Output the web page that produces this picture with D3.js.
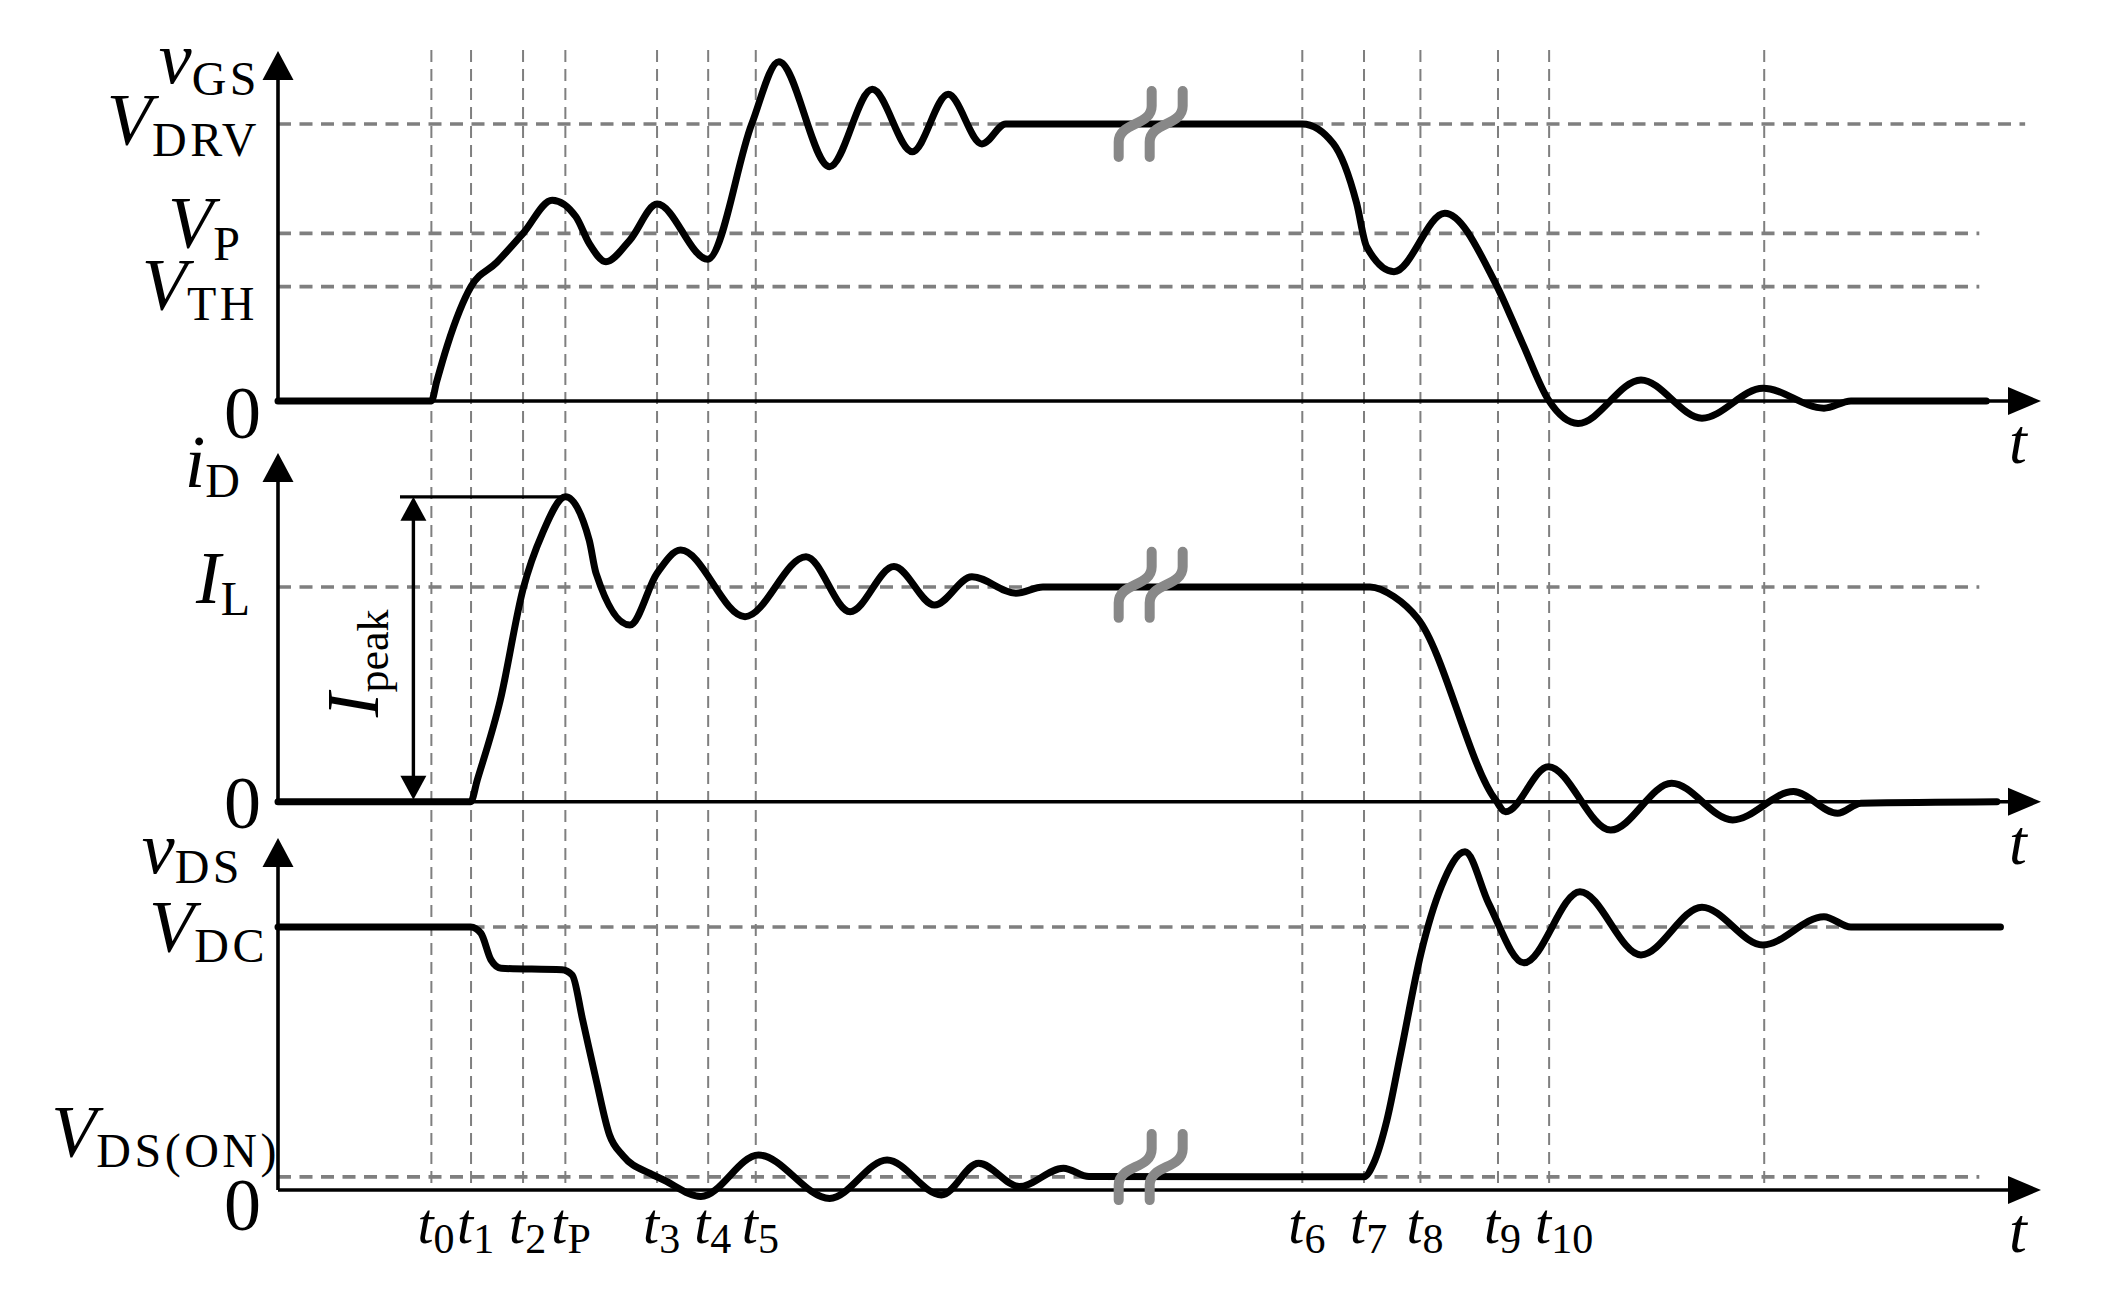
<!DOCTYPE html>
<html lang="en">
<head>
<meta charset="UTF-8">
<title>MOSFET switching waveforms</title>
<script src="https://d3js.org/d3.v7.min.js"></script>
<style>
  body { margin: 0; background: #fff; }
  svg text { font-family: "Liberation Serif", "Times New Roman", serif; fill: #000; }
</style>
</head>
<body>
<svg id="chart" width="2124" height="1310"></svg>
<script>
// time runs 0..100 (arbitrary units), each waveform is normalised to its reference level
const markerTimes = [8.7, 10.95, 13.9, 16.3, 21.5, 24.4, 27.1, 58.1, 61.6, 64.8, 69.2, 72.1, 84.3];
const markerSubs  = ["0", "1", "2", "P", "3", "4", "5", "6", "7", "8", "9", "10", ""];

const vgsLevels = [{ sub: "DRV", v: 1, end: 99.1 }, { sub: "P", v: 0.605, end: 96.5 }, { sub: "TH", v: 0.413, end: 96.5 }];
const idLevels  = [{ sub: "L", v: 1, end: 96.5 }];
const vdsLevels = [{ sub: "DC", v: 1, end: 96.5 }, { sub: "DS(ON)", v: 0.05, end: 96.5 }];

const vGS = [
  [0, 0], [8.7, 0], [9.0, 0.07], [9.6, 0.2], [10.95, 0.413], [12.4, 0.5], [13.9, 0.605], [15.55, 0.725],
  [16.9, 0.665], [17.65, 0.569], [18.6, 0.503], [19.96, 0.581], [21.5, 0.711], [24.37, 0.512],
  [26.87, 1.0], [28.41, 1.225], [31.29, 0.846], [33.71, 1.125], [35.98, 0.9], [38.01, 1.107],
  [39.93, 0.928], [41.28, 1.0], [58.1, 1.0], [59.85, 0.93], [61.18, 0.714], [61.75, 0.557],
  [63.3, 0.467], [66.18, 0.678], [69.06, 0.425], [70.59, 0.208], [72.06, 0.004], [73.74, -0.081],
  [77.31, 0.076], [80.77, -0.062], [84.23, 0.046], [87.69, -0.026], [89.22, 0], [96.9, 0]
];

const iD = [
  [0, 0], [10.93, 0], [11.3, 0.1], [12.6, 0.47], [13.9, 0.99], [15.0, 1.25], [16.31, 1.42],
  [17.65, 1.219], [18.04, 1.064], [19.96, 0.823], [21.5, 1.064], [22.84, 1.172], [26.49, 0.862],
  [29.95, 1.141], [32.45, 0.885], [34.94, 1.095], [37.24, 0.916], [39.36, 1.048], [41.86, 0.971],
  [43.39, 1.0], [61.94, 1.0], [63.3, 0.955], [64.64, 0.854], [69.06, 0.008], [69.63, -0.047],
  [72.06, 0.163], [75.59, -0.132], [79.05, 0.086], [82.51, -0.085], [85.96, 0.047], [88.46, -0.054],
  [89.79, -0.007], [97.5, 0]
];

const vDS = [
  [0, 1], [10.93, 1], [11.51, 0.976], [12.08, 0.875], [12.66, 0.843], [16.11, 0.837], [16.69, 0.817],
  [17.27, 0.65], [18.04, 0.42], [18.8, 0.21], [19.57, 0.13], [21.1, 0.063], [21.88, 0.038],
  [23.99, -0.025], [27.26, 0.133], [31.29, -0.032], [34.55, 0.114], [37.63, -0.019], [39.74, 0.102],
  [42.05, 0.013], [44.55, 0.083], [46.0, 0.051], [61.6, 0.05], [62.14, 0.101], [62.9, 0.266],
  [63.68, 0.52], [64.83, 0.9], [65.98, 1.153], [67.33, 1.286], [68.67, 1.09], [70.67, 0.864],
  [73.85, 1.134], [77.31, 0.894], [80.77, 1.075], [84.23, 0.932], [87.69, 1.039], [89.22, 1.0], [97.7, 1.0]
];

const iPeak = 1.42;           // peak drain current (in units of I_L)
const iPeakArrowT = 7.68;     // where the I_peak dimension arrow sits
const iPeakBarStart = 6.92;
const breakT = 49.5;          // time-axis break
const breakLevels = [1.0, 1.01, 0.087];

// ---- layout ----
const svg = d3.select('#chart');
const x = d3.scaleLinear().domain([0, 100]).range([278, 2041]);
const panels = [
  { data: vGS, levels: vgsLevels, y: d3.scaleLinear().domain([0, 1]).range([401, 124]), top: 51 },
  { data: iD,  levels: idLevels,  y: d3.scaleLinear().domain([0, 1]).range([801.7, 587]), top: 453 },
  { data: vDS, levels: vdsLevels, y: d3.scaleLinear().domain([0, 1]).range([1190, 927]), top: 838 }
];
const gridTop = 50, gridBottom = panels[2].y(0);
const grey = '#7f7f7f';

// vertical dashed marker lines
svg.append('g').selectAll('line').data(markerTimes).join('line')
  .attr('x1', d => x(d)).attr('x2', d => x(d))
  .attr('y1', gridTop).attr('y2', gridBottom)
  .attr('stroke', grey).attr('stroke-width', 2).attr('stroke-dasharray', '12,7');

// horizontal dashed reference levels
panels.forEach(p => {
  svg.append('g').selectAll('line').data(p.levels).join('line')
    .attr('x1', x(0)).attr('x2', d => x(d.end))
    .attr('y1', d => p.y(d.v)).attr('y2', d => p.y(d.v))
    .attr('stroke', grey).attr('stroke-width', 3.6).attr('stroke-dasharray', '13,8.5');
});

// axes with arrow heads
panels.forEach(p => {
  const y0 = p.y(0);
  const ax = svg.append('g');
  ax.append('line').attr('x1', x(0)).attr('x2', x(0)).attr('y1', p.top + 10).attr('y2', y0)
    .attr('stroke', '#000').attr('stroke-width', 3.6);
  ax.append('line').attr('x1', x(0)).attr('x2', x(100) - 10).attr('y1', y0).attr('y2', y0)
    .attr('stroke', '#000').attr('stroke-width', 3.6);
  ax.append('path')
    .attr('d', `M${x(0)},${p.top} L${x(0) + 15.5},${p.top + 29} L${x(0) - 15.5},${p.top + 29} Z`);
  ax.append('path')
    .attr('d', `M${x(100)},${y0} L${x(100) - 33},${y0 - 14} L${x(100) - 33},${y0 + 14} Z`);
});

// waveforms
panels.forEach(p => {
  const line = d3.line().x(d => x(d[0])).y(d => p.y(d[1])).curve(d3.curveMonotoneX);
  svg.append('path').datum(p.data)
    .attr('d', line)
    .attr('fill', 'none').attr('stroke', '#000').attr('stroke-width', 7)
    .attr('stroke-linejoin', 'round').attr('stroke-linecap', 'round');
});

// time-axis break marks
panels.forEach((p, i) => {
  const cy = p.y(breakLevels[i]);
  [-15.5, 15.5].forEach(dx => {
    const cx = x(breakT) + dx;
    svg.append('path')
      .attr('d', `M${cx - 16.5},${cy + 33} L${cx - 16.5},${cy + 18} C${cx - 16.5},${cy - 2} ${cx + 16.5},${cy + 2} ${cx + 16.5},${cy - 18} L${cx + 16.5},${cy - 33}`)
      .attr('fill', 'none').attr('stroke', '#888').attr('stroke-width', 10).attr('stroke-linecap', 'round');
  });
});

// I_peak dimension
{
  const p = panels[1];
  const ax = x(iPeakArrowT), yTop = p.y(iPeak), yBot = p.y(0);
  const g = svg.append('g');
  g.append('line').attr('x1', x(iPeakBarStart)).attr('x2', x(16.31)).attr('y1', yTop).attr('y2', yTop)
    .attr('stroke', '#000').attr('stroke-width', 3.4);
  g.append('line').attr('x1', ax).attr('x2', ax).attr('y1', yTop + 15).attr('y2', yBot - 15)
    .attr('stroke', '#000').attr('stroke-width', 3.4);
  g.append('path').attr('d', `M${ax},${yTop} L${ax + 13},${yTop + 24} L${ax - 13},${yTop + 24} Z`);
  g.append('path').attr('d', `M${ax},${yBot - 2} L${ax + 13},${yBot - 26} L${ax - 13},${yBot - 26} Z`);
  const t = g.append('text').attr('transform', `translate(${ax - 35},${(yTop + yBot) / 2 + 68}) rotate(-90)`);
  t.append('tspan').attr('font-style', 'italic').attr('font-size', 74).text('I');
  t.append('tspan').attr('font-size', 44).attr('dy', 10).text('peak');
}

// symbol labels: italic letter + upright subscript, right-aligned at xr
const labels = svg.append('g');
function symbol(xr, yMain, ySub, main, sub) {
  const s = labels.append('text').attr('x', xr + 3).attr('y', ySub).attr('text-anchor', 'end')
    .attr('font-size', 48).attr('letter-spacing', sub.length > 1 ? 3.5 : 0).text(sub);
  const w = s.node().getComputedTextLength();
  labels.append('text').attr('x', xr + 3 - w).attr('y', yMain).attr('text-anchor', 'end')
    .attr('font-size', 74).attr('font-style', 'italic').text(main);
}
function zero(yBase) {
  labels.append('text').attr('x', 261).attr('y', yBase).attr('text-anchor', 'end')
    .attr('font-size', 74).text('0');
}

const [pv, pi, pd] = panels;
symbol(257, pv.top + 32, pv.top + 44, 'v', 'GS');
symbol(257, pv.y(vgsLevels[0].v) + 21, pv.y(vgsLevels[0].v) + 32, 'V', vgsLevels[0].sub);
symbol(237, pv.y(vgsLevels[1].v) + 15, pv.y(vgsLevels[1].v) + 27, 'V', vgsLevels[1].sub);
symbol(255, pv.y(vgsLevels[2].v) + 23, pv.y(vgsLevels[2].v) + 33, 'V', vgsLevels[2].sub);
zero(pv.y(0) + 37);

symbol(237, pi.top + 34, pi.top + 44, 'i', 'D');
symbol(247, pi.y(idLevels[0].v) + 16, pi.y(idLevels[0].v) + 28, 'I', idLevels[0].sub);
zero(pi.y(0) + 26);

symbol(240, pd.top + 35, pd.top + 45, 'v', 'DS');
symbol(265, pd.y(vdsLevels[0].v) + 25, pd.y(vdsLevels[0].v) + 35, 'V', vdsLevels[0].sub);
symbol(277, pd.y(vdsLevels[1].v) - 20, pd.y(vdsLevels[1].v) - 10, 'V', vdsLevels[1].sub);
zero(pd.y(0) + 40);

// "t" at the end of each time axis
panels.forEach(p => {
  labels.append('text').attr('x', x(100) - 32).attr('y', p.y(0) + 62)
    .attr('font-size', 64).attr('font-style', 'italic').text('t');
});

// marker labels under the bottom axis
let prevEnd = 0;
markerTimes.forEach((t, i) => {
  if (!markerSubs[i]) return;
  const xs = Math.max(x(t) - 14, prevEnd + 1);
  const tx = labels.append('text').attr('x', xs).attr('y', gridBottom + 53);
  tx.append('tspan').attr('font-style', 'italic').attr('font-size', 58).text('t');
  tx.append('tspan').attr('font-size', 42).attr('dy', 10).text(markerSubs[i]);
  prevEnd = xs + tx.node().getComputedTextLength();
});
</script>
</body>
</html>
